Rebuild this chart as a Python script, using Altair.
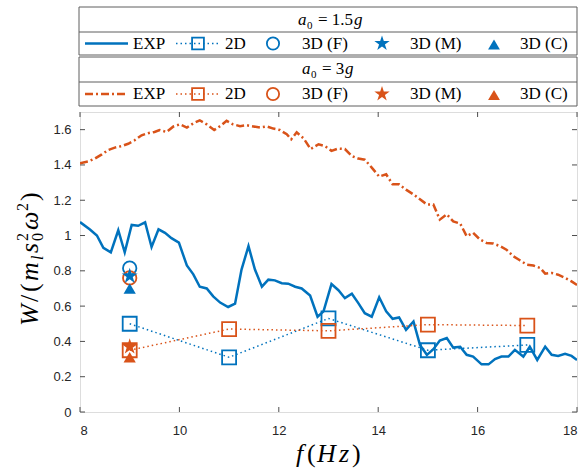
import altair as alt
import pandas as pd
import numpy as np

# ---------------- data ----------------
exp15_f = [8.0, 8.2, 8.34, 8.47, 8.62, 8.77, 8.9, 9.04, 9.17, 9.31, 9.44, 9.58, 9.71, 9.84, 9.99,
           10.15, 10.28, 10.41, 10.55, 10.68, 10.82, 10.98, 11.12, 11.25, 11.39, 11.52, 11.66, 11.79,
           11.92, 12.06, 12.19, 12.33, 12.46, 12.63, 12.78, 12.9, 13.06, 13.2, 13.33, 13.47, 13.6,
           13.73, 13.87, 14.02, 14.16, 14.29, 14.42, 14.56, 14.71, 14.84, 14.98, 15.11, 15.24, 15.38,
           15.51, 15.65, 15.78, 15.91, 16.08, 16.22, 16.35, 16.48, 16.62, 16.75, 16.92, 17.05, 17.2,
           17.36, 17.49, 17.62, 17.76, 17.89, 18.0]
exp15_w = [1.076, 1.034, 1.0, 0.93, 0.905, 1.03, 0.905, 1.06, 1.055, 1.075, 0.935, 1.035, 1.015, 0.985, 0.96,
           0.83, 0.78, 0.71, 0.70, 0.655, 0.62, 0.595, 0.614, 0.807, 0.94, 0.807, 0.71, 0.75,
           0.746, 0.73, 0.727, 0.71, 0.70, 0.66, 0.54, 0.57, 0.725, 0.69, 0.645, 0.67, 0.617,
           0.56, 0.54, 0.65, 0.57, 0.528, 0.536, 0.466, 0.513, 0.38, 0.324, 0.356, 0.405, 0.419,
           0.365, 0.37, 0.324, 0.314, 0.27, 0.27, 0.30, 0.314, 0.314, 0.352, 0.314, 0.37, 0.295,
           0.37, 0.324, 0.318, 0.33, 0.318, 0.295]

exp3_f = [8.0, 8.17, 8.3, 8.44, 8.57, 8.7, 8.84, 8.97, 9.1, 9.24, 9.37, 9.5, 9.6, 9.74, 9.88, 10.01,
          10.15, 10.28, 10.41, 10.55, 10.7, 10.82, 10.95, 11.08, 11.22, 11.35, 11.49, 11.62, 11.76,
          11.89, 12.02, 12.16, 12.25, 12.36, 12.5, 12.64, 12.8, 12.93, 13.06, 13.2, 13.33, 13.47,
          13.6, 13.73, 13.87, 14.02, 14.16, 14.29, 14.42, 14.56, 14.71, 14.84, 14.98, 15.11, 15.24,
          15.38, 15.51, 15.65, 15.78, 15.91, 16.05, 16.18, 16.31, 16.45, 16.58, 16.72, 16.85, 16.99,
          17.12, 17.26, 17.36, 17.49, 17.62, 17.76, 17.89, 18.0]
exp3_w = [1.41, 1.42, 1.436, 1.46, 1.485, 1.498, 1.507, 1.52, 1.54, 1.568, 1.58, 1.587, 1.598, 1.587,
          1.618, 1.63, 1.612, 1.636, 1.653, 1.63, 1.598, 1.62, 1.65, 1.63, 1.62, 1.625, 1.618, 1.612,
          1.618, 1.606, 1.598, 1.574, 1.545, 1.585, 1.55, 1.49, 1.517, 1.507, 1.48, 1.493, 1.49, 1.45,
          1.436, 1.43, 1.385, 1.334, 1.347, 1.29, 1.29, 1.26, 1.233, 1.205, 1.176, 1.176, 1.09,
          1.12, 1.08, 1.068, 0.996, 1.015, 0.977, 0.958, 0.955, 0.94, 0.92, 0.882, 0.86, 0.835,
          0.83, 0.816, 0.784, 0.788, 0.778, 0.76, 0.74, 0.72]

f_2d = [9, 11, 13, 15, 17]
w2d_15 = [0.50, 0.31, 0.53, 0.35, 0.38]
w2d_3 = [0.35, 0.47, 0.46, 0.495, 0.49]

f_3d = [9]
w3dF_15, w3dM_15, w3dC_15 = [0.815], [0.77], [0.70]
w3dF_3, w3dM_3, w3dC_3 = [0.76], [0.37], [0.31]

x_ticks = [8, 10, 12, 14, 16, 18]
y_ticks = [0, 0.2, 0.4, 0.6, 0.8, 1, 1.2, 1.4, 1.6]

# ---------------- style ----------------
BLUE = "#0072BD"
ORANGE = "#D95319"
AX = "#4d4d4d"
W, H = 497, 300
SERIF = "Liberation Serif"

pts = []
for k in range(10):
    ang = np.deg2rad(-90 + 36 * k)
    r = 1.0 if k % 2 == 0 else 0.382
    pts.append(f"{r*np.cos(ang):.3f},{r*np.sin(ang):.3f}")
STAR = "M" + "L".join(pts) + "Z"

XS = alt.Scale(domain=[8, 18], nice=False, zero=False)
YS = alt.Scale(domain=[0, 1.7], nice=False, zero=False)
x_enc = alt.X("f:Q", scale=XS, axis=alt.Axis(values=x_ticks, format="d", ticks=False, domain=False,
                                              grid=False, labelFont="Liberation Sans", labelFontSize=13,
                                              labelColor="#262626", labelPadding=12, title=None))
y_enc = alt.Y("w:Q", scale=YS, axis=alt.Axis(values=y_ticks, format="~g", ticks=False, domain=False,
                                              grid=False, labelFont="Liberation Sans", labelFontSize=13,
                                              labelColor="#262626", labelPadding=9, title=None))


def df(f, w):
    return pd.DataFrame({"f": f, "w": w})


def one():
    return alt.Chart(alt.Data(values=[{}]))


layers = []

# ticks (inward, on all four sides)
xt = pd.DataFrame({"f": x_ticks})
yt = pd.DataFrame({"w": y_ticks})
for y0, y1 in [(H, H - 5), (0, 5)]:
    layers.append(alt.Chart(xt).mark_rule(color=AX, strokeWidth=1).encode(
        x=x_enc, y=alt.value(y0), y2=alt.value(y1)))
for x0, x1 in [(0, 5), (W, W - 5)]:
    layers.append(alt.Chart(yt).mark_rule(color=AX, strokeWidth=1).encode(
        y=y_enc, x=alt.value(x0), x2=alt.value(x1)))

DASHDOT = [8, 3, 2, 3]
DOT = [1.5, 3]

# experimental curves
layers.append(alt.Chart(df(exp15_f, exp15_w)).mark_line(color=BLUE, strokeWidth=2.5, clip=True)
              .encode(x=x_enc, y=y_enc, order="f:Q"))
layers.append(alt.Chart(df(exp3_f, exp3_w)).mark_line(color=ORANGE, strokeWidth=2.5, strokeDash=DASHDOT,
                                                       clip=True).encode(x=x_enc, y=y_enc, order="f:Q"))
# 2D
for w, c in [(w2d_15, BLUE), (w2d_3, ORANGE)]:
    base = alt.Chart(df(f_2d, w))
    layers.append(base.mark_line(color=c, strokeWidth=1.5, strokeDash=DOT).encode(x=x_enc, y=y_enc))
    layers.append(base.mark_point(shape="square", filled=False, size=196, strokeWidth=1.8, color=c,
                                  opacity=1).encode(x=x_enc, y=y_enc))
# 3D
for w, c in [(w3dF_15, BLUE), (w3dF_3, ORANGE)]:
    layers.append(alt.Chart(df(f_3d, w)).mark_point(shape="circle", filled=False, size=180, strokeWidth=1.8,
                                                    color=c, opacity=1).encode(x=x_enc, y=y_enc))
for w, c in [(w3dM_3, ORANGE), (w3dM_15, BLUE)]:
    layers.append(alt.Chart(df(f_3d, w)).mark_point(shape=STAR, filled=True, size=280, color=c,
                                                    opacity=1).encode(x=x_enc, y=y_enc))
for w, c in [(w3dC_15, BLUE), (w3dC_3, ORANGE)]:
    layers.append(alt.Chart(df(f_3d, w)).mark_point(shape="triangle-up", filled=True, size=150, color=c,
                                                    opacity=1).encode(x=x_enc, y=y_enc))


def txt(s, x, y, size=17, style="normal", align="left", angle=0, color="black"):
    kw = dict(text=s, font=SERIF, fontSize=size, fontStyle=style, align=align,
              baseline="alphabetic", color=color)
    if angle:
        kw["angle"] = angle
    return one().mark_text(**kw).encode(x=alt.value(x), y=alt.value(y))


# ---------------- legend ----------------
LB = "#5e5e5e"
for top, mid, bot in [(-105, -80, -57), (-55, -30, -6)]:
    layers.append(one().mark_rect(fill="white", stroke=LB, strokeWidth=1).encode(
        x=alt.value(-1), x2=alt.value(W), y=alt.value(top), y2=alt.value(bot)))
    layers.append(one().mark_rule(color=LB, strokeWidth=1).encode(
        x=alt.value(-1), x2=alt.value(W), y=alt.value(mid)))

# titles a0 = 1.5g , a0 = 3g
layers += [txt("a", 218, -87, style="italic"), txt("0", 227, -83, size=11),
           txt("= 1.5", 238, -87), txt("g", 274, -87, style="italic")]
layers += [txt("a", 222, -38, style="italic"), txt("0", 231, -34, size=11),
           txt("= 3", 242, -38), txt("g", 265, -38, style="italic")]

for c, sy, ty, dash in [(BLUE, -68.5, -63, None), (ORANGE, -18, -13.5, DASHDOT)]:
    lk = dict(color=c, strokeWidth=2.5)
    if dash:
        lk["strokeDash"] = dash
    layers.append(one().mark_rule(**lk).encode(x=alt.value(5), x2=alt.value(48), y=alt.value(sy)))
    layers.append(one().mark_rule(color=c, strokeWidth=1.5, strokeDash=DOT).encode(
        x=alt.value(96), x2=alt.value(139), y=alt.value(sy)))
    layers.append(one().mark_point(shape="square", filled=False, size=140, strokeWidth=1.8, color=c,
                                   opacity=1).encode(x=alt.value(118), y=alt.value(sy)))
    layers.append(one().mark_point(shape="circle", filled=False, size=150, strokeWidth=1.8, color=c,
                                   opacity=1).encode(x=alt.value(193), y=alt.value(sy)))
    layers.append(one().mark_point(shape=STAR, filled=True, size=260, color=c, opacity=1).encode(
        x=alt.value(302), y=alt.value(sy)))
    layers.append(one().mark_point(shape="triangle-up", filled=True, size=140, color=c, opacity=1).encode(
        x=alt.value(414), y=alt.value(sy + 1)))
    for s, x in [("EXP", 53), ("2D", 145), ("3D (F)", 222), ("3D (M)", 330), ("3D (C)", 440)]:
        layers.append(txt(s, x, ty))

# ---------------- axis titles ----------------
XT = 26
layers += [txt("f", 216, 350, size=XT, style="italic"), txt("(", 227, 350, size=XT),
           txt("H", 237, 350, size=XT, style="italic"), txt("z", 259, 350, size=XT, style="italic"),
           txt(")", 272, 350, size=XT)]

yb, ysup, ysub = -42, -52, -37
layers += [txt("W", yb, 214, size=XT, style="italic", angle=270),
           txt("/", yb, 190, size=XT, angle=270),
           txt("(", yb, 180, size=XT, angle=270),
           txt("m", yb, 169, size=XT, style="italic", angle=270),
           txt("l", ysub, 148, size=16, style="italic", angle=270),
           txt("s", yb, 141, size=XT, style="italic", angle=270),
           txt("2", ysup, 129, size=16, angle=270),
           txt("0", ysub, 129, size=16, angle=270),
           txt("ω", yb, 118, size=XT, style="italic", angle=270),
           txt("2", ysup, 99, size=16, angle=270),
           txt(")", yb, 89, size=XT, angle=270)]

chart = alt.layer(*layers).properties(
    width=W, height=H,
    padding={"left": 80, "top": 112, "right": 2, "bottom": 58},
    autosize=alt.AutoSizeParams(type="none"),
).configure_view(stroke=AX, strokeWidth=1).configure(background="white")

chart.save("out.html", embed_options={"renderer": "svg", "actions": False})
